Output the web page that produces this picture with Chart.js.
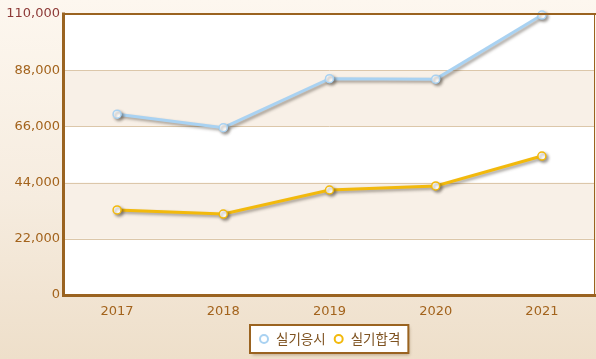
<!DOCTYPE html>
<html>
<head>
<meta charset="utf-8">
<script src="https://cdn.jsdelivr.net/npm/chart.js@4/dist/chart.umd.min.js"></script>
<style>
    html, body { margin: 0; padding: 0; }
    body {
        width: 596px; height: 359px; overflow: hidden;
        background: linear-gradient(to bottom, #FDF7EF 0%, #F6ECDF 55%, #EEDFCA 100%);
    }
    #wrap { position: relative; width: 596px; height: 359px; }
</style>
</head>
<body>
<div id="wrap"><canvas id="chart"></canvas></div>
<script>
// ════════════════════════════════════════
// DATA
// ════════════════════════════════════════

const YEARS = ['2017', '2018', '2019', '2020', '2021'];
const EXAM_TAKERS = [70800, 65500, 84700, 84500, 109600];   // 실기응시
const EXAM_PASSED = [33300, 31700, 41100, 42700, 54400];    // 실기합격
const SERIES_LABELS = ['실기응시', '실기합격'];
const Y_MAX = 110000;
const Y_STEP = 22000;

const COLORS = {
    takers: '#A9D2F2',
    passed: '#F2B90C',
    frame: '#9A6320',
    grid: '#DCC7AA',
    band: '#F8F0E7',
    tick: '#A3631C',
    tickTop: '#8E3B38',
    legendText: '#7E5220',
};

const FONT = "'DejaVu Sans', Verdana, sans-serif";
const KR_FONT = "'Noto Sans CJK KR', 'Noto Sans', sans-serif";

// ════════════════════════════════════════
// PLUGINS
// ════════════════════════════════════════

// white plot area + alternating beige bands between grid lines
const bandPlugin = {
    id: 'bands',
    beforeDatasetsDraw(chart) {
        const { ctx, chartArea: a, scales: { y } } = chart;
        ctx.save();
        ctx.fillStyle = '#FFFFFF';
        ctx.fillRect(a.left, a.top, a.right - a.left, a.bottom - a.top);
        const ticks = y.ticks.map(t => t.value).sort((p, q) => p - q);
        for (let i = 0; i < ticks.length - 1; i++) {
            if (i % 2 !== 1) continue;
            const y0 = y.getPixelForValue(ticks[i]);
            const y1 = y.getPixelForValue(ticks[i + 1]);
            ctx.fillStyle = COLORS.band;
            ctx.fillRect(a.left, y1, a.right - a.left, y0 - y1);
        }
        // grid lines on top of the bands
        ctx.strokeStyle = COLORS.grid;
        ctx.lineWidth = 1;
        ticks.forEach(v => {
            const py = Math.round(y.getPixelForValue(v)) + 0.5;
            ctx.beginPath();
            ctx.moveTo(a.left, py);
            ctx.lineTo(a.right, py);
            ctx.stroke();
        });
        ctx.restore();
    },
};

// soft drop shadow under the lines
const shadowPlugin = {
    id: 'lineShadow',
    beforeDatasetDraw(chart) {
        const ctx = chart.ctx;
        ctx.save();
        ctx.shadowColor = 'rgba(60,50,40,0.45)';
        ctx.shadowBlur = 3;
        ctx.shadowOffsetX = 2;
        ctx.shadowOffsetY = 2;
    },
    afterDatasetDraw(chart) {
        chart.ctx.restore();
    },
};

// brown frame: heavy on left / top / bottom, thin on the right
const framePlugin = {
    id: 'frame',
    afterDatasetsDraw(chart) {
        const { ctx, chartArea: a } = chart;
        ctx.save();
        ctx.strokeStyle = COLORS.frame;
        ctx.lineCap = 'square';
        ctx.lineWidth = 1;
        ctx.beginPath();
        ctx.moveTo(a.right - 0.5, a.top);
        ctx.lineTo(a.right - 0.5, a.bottom);
        ctx.stroke();
        ctx.lineWidth = 2;
        ctx.beginPath();
        ctx.moveTo(a.left, a.top);
        ctx.lineTo(a.right, a.top);
        ctx.stroke();
        ctx.lineWidth = 3;
        ctx.beginPath();
        ctx.moveTo(a.left - 0.5, a.top);
        ctx.lineTo(a.left - 0.5, a.bottom + 0.5);
        ctx.lineTo(a.right, a.bottom + 0.5);
        ctx.stroke();
        ctx.restore();
    },
};

// boxed legend centred under the plot area
const legendBoxPlugin = {
    id: 'legendBox',
    afterDraw(chart) {
        const { ctx, chartArea: a } = chart;
        const sets = chart.data.datasets;
        ctx.save();
        ctx.font = '13.5px ' + KR_FONT;
        const padL = 9, padR = 8, dot = 10, dotGap = 7, itemGap = 8;
        const widths = sets.map(d => ctx.measureText(d.label).width);
        let total = padL + padR;
        widths.forEach((w, i) => { total += dot + dotGap + w + (i < widths.length - 1 ? itemGap : 0); });
        const h = 28;
        const bx = Math.round((a.left + a.right) / 2 - total / 2);
        const by = 325;

        ctx.shadowColor = 'rgba(90,60,20,0.35)';
        ctx.shadowBlur = 3;
        ctx.shadowOffsetX = 2;
        ctx.shadowOffsetY = 2;
        ctx.fillStyle = '#FFFFFF';
        ctx.fillRect(bx, by, total, h);
        ctx.shadowColor = 'transparent';
        ctx.strokeStyle = COLORS.frame;
        ctx.lineWidth = 2;
        ctx.strokeRect(bx, by, total, h);

        let x = bx + padL;
        const cy = by + h / 2;
        sets.forEach((d, i) => {
            ctx.beginPath();
            ctx.arc(x + dot / 2, cy, 4, 0, Math.PI * 2);
            ctx.fillStyle = '#FFFFFF';
            ctx.fill();
            ctx.lineWidth = 2;
            ctx.strokeStyle = d.borderColor;
            ctx.stroke();
            x += dot + dotGap;
            ctx.fillStyle = COLORS.legendText;
            ctx.textBaseline = 'middle';
            ctx.textAlign = 'left';
            ctx.fillText(d.label, x, cy);
            x += widths[i] + itemGap;
        });
        ctx.restore();
    },
};

// ════════════════════════════════════════
// CHART
// ════════════════════════════════════════

function makeDataset(label, data, color) {
    return {
        label,
        data,
        borderColor: color,
        backgroundColor: color,
        borderWidth: 3,
        pointRadius: 4,
        pointBorderWidth: 1.5,
        pointBackgroundColor: '#FFFFFF',
        pointBorderColor: color,
        tension: 0,
        clip: false,
    };
}

new Chart(document.getElementById('chart'), {
    type: 'line',
    data: {
        labels: YEARS,
        datasets: [
            makeDataset(SERIES_LABELS[0], EXAM_TAKERS, COLORS.takers),
            makeDataset(SERIES_LABELS[1], EXAM_PASSED, COLORS.passed),
        ],
    },
    options: {
        responsive: true,
        maintainAspectRatio: false,
        animation: false,
        layout: {
            autoPadding: false,
            padding: { left: 0, top: 14, right: 1, bottom: 34 },
        },
        plugins: {
            legend: { display: false },
            tooltip: { enabled: false },
        },
        scales: {
            x: {
                offset: true,
                grid: { display: false, drawTicks: false },
                border: { display: false },
                ticks: {
                    padding: 9,
                    color: COLORS.tick,
                    font: { family: FONT, size: 13 },
                },
                afterFit: s => {
                    s.height = 30;
                    s.paddingLeft = 0;
                    s.paddingRight = 0;
                },
            },
            y: {
                min: 0,
                max: Y_MAX,
                grid: { display: false, drawTicks: false },
                border: { display: false },
                ticks: {
                    stepSize: Y_STEP,
                    padding: 4,
                    color: ctx => (ctx.tick && ctx.tick.value === Y_MAX ? COLORS.tickTop : COLORS.tick),
                    font: { family: FONT, size: 13 },
                    callback: v => v.toLocaleString('en-US'),
                },
                afterFit: s => { s.width = 64; },
            },
        },
    },
    plugins: [bandPlugin, shadowPlugin, framePlugin, legendBoxPlugin],
});
</script>
</body>
</html>
